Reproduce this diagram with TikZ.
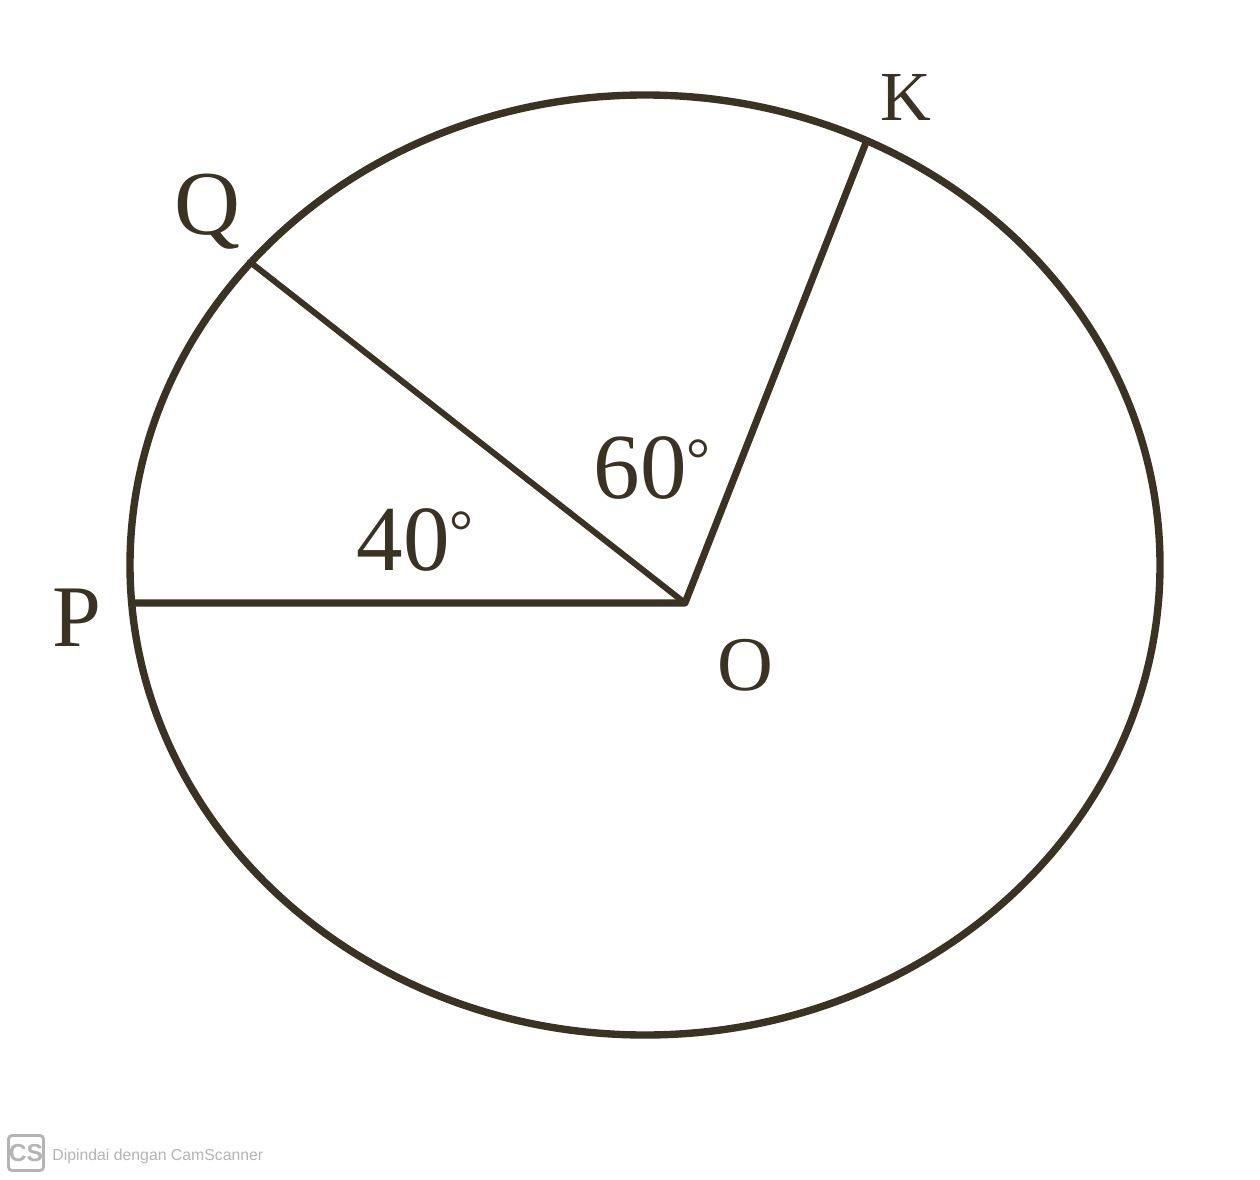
\documentclass[tikz,border=0pt]{standalone}
\usepackage{fontspec}
\setmainfont{Liberation Serif}
\newfontfamily\wmfont{Liberation Sans}
\definecolor{ink}{HTML}{3A3222}
\definecolor{wm}{HTML}{B4B4B4}
\newcommand{\degmark}{{\fontsize{34}{34}\selectfont\raisebox{0.32em}{°}}}
\begin{document}
\begin{tikzpicture}[x=0.02cm,y=-0.02cm,
  rim/.style={draw=ink,line width=4.2pt},
  spoke/.style={draw=ink,line width=4pt,line cap=round,line join=round},
  ray/.style={draw=ink,line width=3.4pt,line cap=round},
  lbl/.style={text=ink,inner sep=0pt},
  ang/.style={text=ink,inner sep=0pt,font=\fontsize{53}{53}\selectfont}]
\useasboundingbox[fill=white] (0,0) rectangle (1260,1179);
% points
\coordinate (O) at (685,603);
\coordinate (P) at (135,603);
\coordinate (Q) at (250,262);
\coordinate (K) at (865,145);
% circle
\draw[rim] (645,565) ellipse [x radius=515, y radius=470];
% radii
\draw[spoke] (P) -- (O) -- (K);
\draw[ray] (Q) -- (O);
% labels
\node[lbl,font=\fontsize{50}{50}\selectfont] (lP) at (77,618) {P};
\node[lbl,font=\fontsize{52}{52}\selectfont] (lQ) at (207,212) {Q};
\node[lbl,font=\fontsize{40}{40}\selectfont] (lK) at (906,97) {K};
\node[lbl,font=\fontsize{44}{44}\selectfont] (lO) at (745,665) {O};
\node[ang] (a60) at (652,468) {60\degmark};
\node[ang] (a40) at (415,540) {40\degmark};
% watermark
\node[draw=wm,fill=white,line width=1.6pt,rounded corners=2pt,minimum width=0.7cm,minimum height=0.7cm,inner sep=0pt,text=wm,font=\wmfont\bfseries\fontsize{14}{14}\selectfont] (cs) at (26,1153) {CS};
\node[anchor=west,text=wm,inner sep=0pt,font=\wmfont\fontsize{9}{10}\selectfont] (wmtext) at (52,1156) {Dipindai dengan CamScanner};
\end{tikzpicture}
\end{document}
